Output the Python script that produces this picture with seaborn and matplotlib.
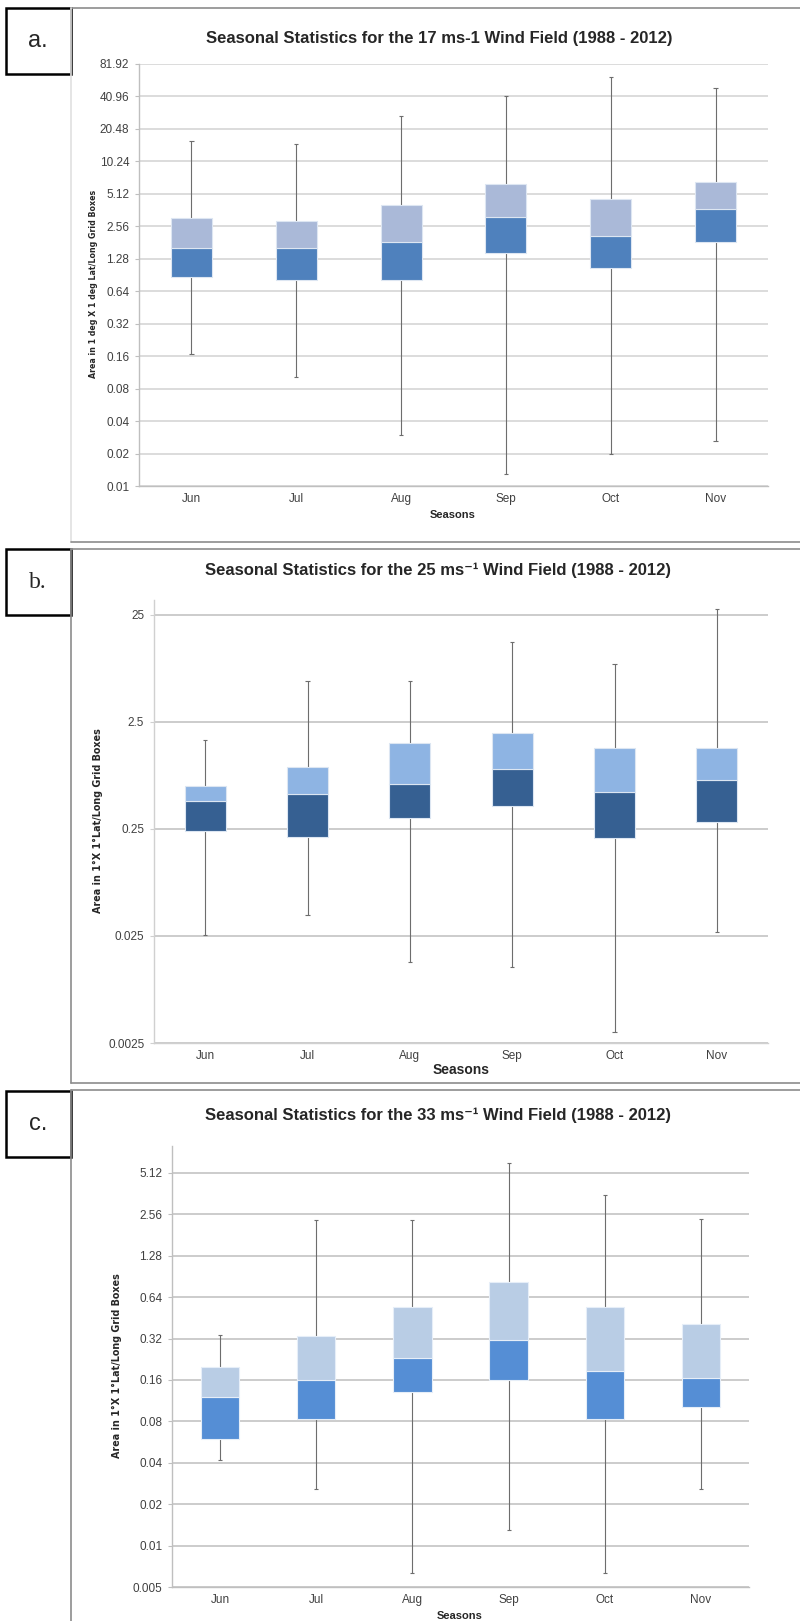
import numpy as np
import pandas as pd
import seaborn as sns
import matplotlib.pyplot as plt
from matplotlib.lines import Line2D
from matplotlib.patches import Rectangle
from matplotlib.ticker import NullLocator

months = ['Jun', 'Jul', 'Aug', 'Sep', 'Oct', 'Nov']

# panel a - 17 ms-1
a_min = [0.168, 0.103, 0.0295, 0.0129, 0.0196, 0.026]
a_q1 = [0.876, 0.81, 0.81, 1.44, 1.05, 1.85]
a_med = [1.61, 1.61, 1.85, 3.12, 2.07, 3.69]
a_q3 = [3.03, 2.88, 4.0, 6.36, 4.6, 6.65]
a_max = [15.8, 15.0, 27.0, 41.7, 62.4, 48.6]
a_ticks = [0.01, 0.02, 0.04, 0.08, 0.16, 0.32, 0.64, 1.28, 2.56, 5.12, 10.24, 20.48, 40.96, 81.92]
a_labels = ['0.01', '0.02', '0.04', '0.08', '0.16', '0.32', '0.64', '1.28', '2.56', '5.12',
            '10.24', '20.48', '40.96', '81.92']

# panel b - 25 ms-1
b_min = [0.0254, 0.0396, 0.0144, 0.0127, 0.00315, 0.0273]
b_q1 = [0.239, 0.212, 0.319, 0.407, 0.205, 0.288]
b_med = [0.452, 0.532, 0.65, 0.912, 0.548, 0.716]
b_q3 = [0.635, 0.947, 1.58, 1.97, 1.435, 1.435]
b_max = [1.69, 5.99, 5.99, 13.9, 8.67, 28.2]
b_ticks = [0.0025, 0.025, 0.25, 2.5, 25]
b_labels = ['0.0025', '0.025', '0.25', '2.5', '25']

# panel c - 33 ms-1
c_min = [0.0418, 0.0256, 0.00637, 0.0129, 0.00637, 0.0256]
c_q1 = [0.0591, 0.0827, 0.130, 0.1586, 0.0827, 0.1023]
c_med = [0.120, 0.1586, 0.231, 0.314, 0.1865, 0.166]
c_q3 = [0.2, 0.334, 0.545, 0.827, 0.542, 0.409]
c_max = [0.34, 2.32, 2.32, 6.09, 3.56, 2.377]
c_ticks = [0.005, 0.01, 0.02, 0.04, 0.08, 0.16, 0.32, 0.64, 1.28, 2.56, 5.12]
c_labels = ['0.005', '0.01', '0.02', '0.04', '0.08', '0.16', '0.32', '0.64', '1.28', '2.56', '5.12']

sns.set_style("white")
NARROW = ['Liberation Sans Narrow', 'Liberation Sans', 'DejaVu Sans']
plt.rcParams['font.family'] = NARROW

W, H = 800, 1621
fig = plt.figure(figsize=(W / 100, H / 100), dpi=100)


def px_axes(x0, y0, x1, y1):
    return fig.add_axes([x0 / W, 1 - y1 / H, (x1 - x0) / W, (y1 - y0) / H])


def fig_line(x0, y0, x1, y1, color):
    fig.add_artist(Line2D([x0 / W, x1 / W], [1 - y0 / H, 1 - y1 / H],
                          transform=fig.transFigure, color=color, lw=1.2))


def box_panel(ax, lo, q1, med, q3, hi, light, dark, edge, width, ticks, labels, ylim,
              grid_color, spine_color):
    df = pd.DataFrame({'month': months, 'q1': q1, 'med': med, 'q3': q3})
    df['low'] = df['med'] - df['q1']
    df['up'] = df['q3'] - df['med']
    sns.barplot(data=df, x='month', y='low', bottom=df['q1'].values, color=dark,
                saturation=1, width=width, edgecolor=edge, linewidth=0.8,
                errorbar=None, ax=ax, zorder=3)
    sns.barplot(data=df, x='month', y='up', bottom=df['med'].values, color=light,
                saturation=1, width=width, edgecolor=edge, linewidth=0.8,
                errorbar=None, ax=ax, zorder=3)
    xs = np.arange(len(months))
    ax.vlines(xs, lo, hi, color='#6d6d6d', lw=0.8, zorder=2)
    ax.hlines(lo, xs - 0.02, xs + 0.02, color='#6d6d6d', lw=0.8, zorder=2)
    ax.hlines(hi, xs - 0.02, xs + 0.02, color='#6d6d6d', lw=0.8, zorder=2)

    ax.set_yscale('log')
    ax.set_ylim(*ylim)
    ax.set_xlim(-0.5, 5.5)
    ax.set_yticks(ticks, labels)
    ax.yaxis.set_minor_locator(NullLocator())
    ax.set_xticks(xs, months)
    ax.set_xticks(np.arange(-0.5, 6, 1), minor=True)
    ax.tick_params(axis='x', which='major', length=0, pad=5, labelsize=8.5, labelcolor='#404040')
    ax.tick_params(axis='x', which='minor', length=3, width=0.8, color=spine_color, direction='out')
    ax.tick_params(axis='y', length=3, width=0.8, color=spine_color, pad=4,
                   labelsize=8.5, labelcolor='#404040', left=True)
    ax.yaxis.grid(True, color=grid_color, lw=1.3)
    ax.set_axisbelow(True)
    ax.set_xlabel('')
    ax.set_ylabel('')
    for s in ['top', 'right']:
        ax.spines[s].set_visible(False)
    for s in ['left', 'bottom']:
        ax.spines[s].set_color(spine_color)
        ax.spines[s].set_linewidth(1.0)


# ---------- panel frames ----------
fig_line(71, 8, 800, 8, '#8c8c8c')
fig_line(71, 8, 71, 542, '#e0e0e0')
fig_line(71, 542, 800, 542, '#8c8c8c')
fig_line(71, 549, 800, 549, '#8c8c8c')
fig_line(71, 549, 71, 1083, '#8c8c8c')
fig_line(71, 1083, 800, 1083, '#8c8c8c')
fig_line(71, 1090, 800, 1090, '#8c8c8c')
fig_line(71, 1090, 71, 1621, '#8c8c8c')

for (y0, y1, lab, fam) in [(8, 74, 'a.', 'Liberation Sans'),
                           (549, 615, 'b.', 'Liberation Serif'),
                           (1091, 1157, 'c.', 'Liberation Sans')]:
    fig.add_artist(Rectangle((6 / W, 1 - y1 / H), 65 / W, (y1 - y0) / H,
                             transform=fig.transFigure, fill=False, ec='black', lw=1.8))
    fig.text(38 / W, 1 - (y0 + y1) / 2 / H, lab, ha='center', va='center',
             fontsize=17, family=fam)

# ---------- panel a ----------
ax_a = px_axes(139, 64, 768, 486)
box_panel(ax_a, a_min, a_q1, a_med, a_q3, a_max, '#aab9d8', '#4f81bd', '#dde6f2', 0.39,
          a_ticks, a_labels, (0.01, 81.92), '#d9d9d9', '#bfbfbf')
fig.text(439 / W, 1 - 38 / H, 'Seasonal Statistics for the 17 ms-1 Wind Field (1988 - 2012)',
         ha='center', va='center', fontsize=12, fontweight='bold')
fig.text(93 / W, 1 - 284 / H, 'Area in 1 deg X 1 deg Lat/Long Grid Boxes', rotation=90,
         ha='center', va='center', fontsize=5.7, fontweight='bold', family='DejaVu Sans')
fig.text(453 / W, 1 - 515 / H, 'Seasons', ha='center', va='center', fontsize=8,
         fontweight='bold')

# ---------- panel b ----------
ax_b = px_axes(154, 600, 768, 1043)
box_panel(ax_b, b_min, b_q1, b_med, b_q3, b_max, '#8eb4e3', '#366092', '#dce6f2', 0.4,
          b_ticks, b_labels, (0.0025, 34.3), '#c8c8c8', '#d0d0d0')
fig.text(438 / W, 1 - 570 / H, 'Seasonal Statistics for the 25 ms\u207b\u00b9 Wind Field (1988 - 2012)',
         ha='center', va='center', fontsize=12, fontweight='bold', family=NARROW)
fig.text(98 / W, 1 - 821 / H, 'Area in 1\u00b0X 1\u00b0Lat/Long Grid Boxes', rotation=90,
         ha='center', va='center', fontsize=6.9, fontweight='bold', family='DejaVu Sans')
fig.text(461 / W, 1 - 1070 / H, 'Seasons', ha='center', va='center', fontsize=10,
         fontweight='bold')

# ---------- panel c ----------
ax_c = px_axes(172, 1146, 749, 1587)
box_panel(ax_c, c_min, c_q1, c_med, c_q3, c_max, '#b9cde5', '#558ed5', '#e6eef8', 0.4,
          c_ticks, c_labels, (0.005, 8.03), '#c8c8c8', '#bfbfbf')
fig.text(438 / W, 1 - 1115 / H, 'Seasonal Statistics for the 33 ms\u207b\u00b9 Wind Field (1988 - 2012)',
         ha='center', va='center', fontsize=12, fontweight='bold', family=NARROW)
fig.text(117 / W, 1 - 1366 / H, 'Area in 1\u00b0X 1\u00b0Lat/Long Grid Boxes', rotation=90,
         ha='center', va='center', fontsize=6.9, fontweight='bold', family='DejaVu Sans')
fig.text(460 / W, 1 - 1616 / H, 'Seasons', ha='center', va='center', fontsize=8,
         fontweight='bold')

fig.savefig('out.png', dpi=100)
